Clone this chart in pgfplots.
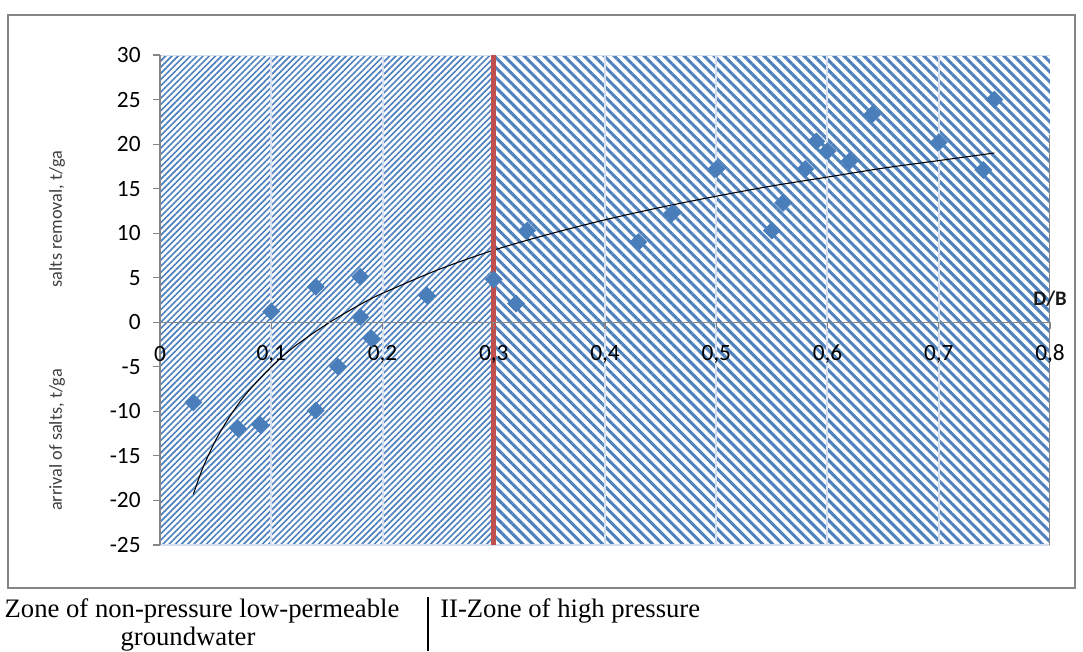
\documentclass[border=0pt]{standalone}
\usepackage{pgfplots}
\pgfplotsset{compat=1.18}
\usepackage{fontspec}
\setmainfont{Liberation Serif}
\newfontfamily\calfont{Carlito}
\usetikzlibrary{patterns.meta}
\definecolor{hatchblue}{HTML}{4F81BD}
\definecolor{markblue}{HTML}{4A7EBB}
\definecolor{gridc}{HTML}{D5DFEF}
\definecolor{redl}{HTML}{C0504D}
\definecolor{axgrey}{HTML}{868686}
\definecolor{labgrey}{HTML}{404040}
\begin{document}
\begin{tikzpicture}
\useasboundingbox (0,0) rectangle (812.25pt,488.25pt);
\draw[axgrey, line width=1.5pt] (6pt,47.25pt) rectangle (806.25pt,477pt);
\begin{axis}[
  at={(120pt,79.5pt)}, anchor=south west, scale only axis,
  width=667.5pt, height=367.5pt,
  xmin=0, xmax=0.8, ymin=-25, ymax=30,
  axis on top,
  axis x line=middle, axis y line=left,
  axis line style={-, draw=axgrey, line width=1pt},
  hide obscured x ticks=false,
  xtick={0,0.1,0.2,0.3,0.4,0.5,0.6,0.7,0.8},
  xticklabels={0,{0,1},{0,2},{0,3},{0,4},{0,5},{0,6},{0,7},{0,8}},
  ytick={-25,-20,-15,-10,-5,0,5,10,15,20,25,30},
  yticklabels={-25,-20,-15,-10,-5,0,5,10,15,20,25,30},
  tick align=outside, major tick length=5pt,
  tick style={draw=axgrey, line width=0.8pt},
  tick label style={font=\calfont\fontsize{17.5}{18}\selectfont, text=black},
  xticklabel style={anchor=center, yshift=-19pt},
  yticklabel style={xshift=-6pt},
]
\addplot[draw=none,
  pattern={Lines[angle=45,distance=3.3pt,line width=1.25pt]}, pattern color=hatchblue]
  coordinates {(0,-25) (0.3,-25) (0.3,30) (0,30) (0,-25)};
\addplot[draw=none,
  pattern={Lines[angle=-45,distance=5.3pt,line width=2.3pt]}, pattern color=hatchblue]
  coordinates {(0.3,-25) (0.8,-25) (0.8,30) (0.3,30) (0.3,-25)};
\addplot[gridc, line width=1pt] coordinates {(0,30) (0.8,30)};
\addplot[gridc, line width=1pt] coordinates {(0,-25) (0.8,-25)};
\addplot[gridc, line width=1.5pt] coordinates {(0.1,-25) (0.1,30)};
\addplot[gridc, line width=1.5pt] coordinates {(0.2,-25) (0.2,30)};
\addplot[gridc, line width=1.5pt] coordinates {(0.4,-25) (0.4,30)};
\addplot[gridc, line width=1.5pt] coordinates {(0.5,-25) (0.5,30)};
\addplot[gridc, line width=1.5pt] coordinates {(0.6,-25) (0.6,30)};
\addplot[gridc, line width=1.5pt] coordinates {(0.7,-25) (0.7,30)};
\addplot[axgrey, line width=1pt] coordinates {(0.8,-25) (0.8,21)};
\addplot[only marks, mark=square*, mark size=4.5pt,
  mark options={rotate=45, fill=markblue, draw=markblue}]
  coordinates {(0.03,-9.0) (0.07,-11.9) (0.09,-11.5) (0.10,1.2) (0.14,4.0) (0.14,-9.9)
  (0.16,-5.0) (0.18,5.1) (0.18,0.6) (0.19,-1.8) (0.24,3.0) (0.30,4.8) (0.32,2.1)
  (0.33,10.3) (0.43,9.0) (0.46,12.2) (0.50,17.2) (0.55,10.3) (0.56,13.4) (0.58,17.2)
  (0.59,20.3) (0.60,19.2) (0.62,18.1) (0.64,23.3) (0.70,20.2) (0.74,17.1) (0.75,25.0)};
\addplot[black, line width=0.8pt, smooth]
  coordinates {(0.03,-19.3) (0.035,-17.5) (0.04,-15.9) (0.05,-13.25) (0.06,-11.1)
  (0.07,-9.25) (0.08,-7.65) (0.1,-5.0) (0.12,-2.8) (0.15,-0.2) (0.18,2.0) (0.2,3.25)
  (0.25,5.9) (0.3,8.1) (0.35,9.9) (0.4,11.5) (0.45,12.9) (0.5,14.15) (0.55,15.3)
  (0.6,16.3) (0.65,17.3) (0.7,18.15) (0.75,19.0)};
\addplot[redl, line width=3.8pt] coordinates {(0.3,-25) (0.3,30)};
\end{axis}
\node[font=\calfont\bfseries\fontsize{15.5}{16}\selectfont, text=labgrey!40!black] at (787.5pt,264pt) {D/B};
\node[rotate=90, font=\calfont\fontsize{13.7}{14}\selectfont, text=labgrey] at (42.75pt,324pt) {salts removal, t/ga};
\node[rotate=90, font=\calfont\fontsize{13.7}{14}\selectfont, text=labgrey] at (42.75pt,158.25pt) {arrival of salts, t/ga};
\node[anchor=base, font=\fontsize{20}{23}\selectfont, inner sep=0pt] at (151.5pt,25.5pt) {Zone of non-pressure low-permeable};
\node[anchor=base, font=\fontsize{20}{23}\selectfont, inner sep=0pt] at (141pt,4pt) {groundwater};
\draw[black, line width=1.5pt] (321pt,40.5pt) -- (321pt,0pt);
\node[anchor=base west, font=\fontsize{20}{23}\selectfont, inner sep=0pt] at (330pt,25.5pt) {II-Zone of high pressure};
\end{tikzpicture}
\end{document}
